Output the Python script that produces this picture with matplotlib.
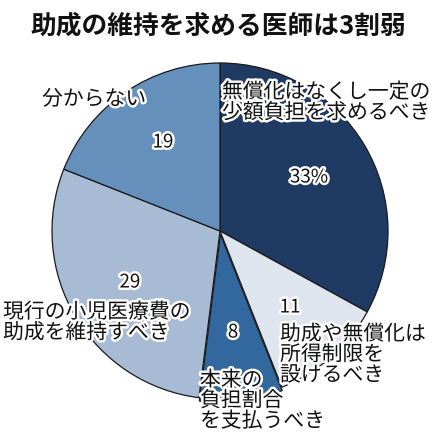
import matplotlib
matplotlib.use("Agg")
import matplotlib.pyplot as plt
import matplotlib.patheffects as pe

plt.rcParams['font.family'] = ['Noto Sans CJK JP', 'DejaVu Sans']

title = "助成の維持を求める医師は3割弱"
categories = ["無償化はなくし一定の\n少額負担を求めるべき",
              "助成や無償化は\n所得制限を\n設けるべき",
              "本来の\n負担割合\nを支払うべき",
              "現行の小児医療費の\n助成を維持すべき",
              "分からない"]
values = [33, 11, 8, 29, 19]
value_labels = ["33%", "11", "8", "29", "19"]
colors = ["#1f3b64", "#dfe5ee", "#33689e", "#a7bcd4", "#6690bc"]
explode = [0, 0, 0.02, 0, 0]

W, H = 447, 439
fig = plt.figure(figsize=(W / 100, H / 100), dpi=100)
fig.patch.set_facecolor("white")

cx, cy, r = 220, 232, 168
ax = fig.add_axes([(cx - r) / W, (H - cy - r) / H, 2 * r / W, 2 * r / H])
ax.pie(values, colors=colors, startangle=90, counterclock=False,
       explode=explode,
       wedgeprops=dict(edgecolor="#1a1a1a", linewidth=0.9))
ax.set_xlim(-1, 1)
ax.set_ylim(-1, 1)
ax.axis("off")

def px(x, y):
    return x / W, 1 - y / H

stroke = [pe.withStroke(linewidth=3.5, foreground="white")]

fig.text(*px(218, 26), title, ha="center", va="center", fontsize=18.5,
         fontweight="bold", color="#111111")

# category labels: left x and centre y of first line; each line drawn separately
cat_pos = [(222, 93), (280, 335), (200, 381), (3, 313), (42, 100)]
line_step = 20.5
for text, (x, y) in zip(categories, cat_pos):
    for i, line in enumerate(text.split("\n")):
        fig.text(*px(x, y + i * line_step), line, ha="left", va="center",
                 fontsize=15, color="#111111", path_effects=stroke)

num_pos = [(309, 178), (290, 308), (233, 333), (130, 283), (163, 143)]
for text, (x, y) in zip(value_labels, num_pos):
    fig.text(*px(x, y), text, ha="center", va="center", fontsize=13.5,
             color="#111111", path_effects=stroke)

fig.savefig("out.png", dpi=100, facecolor="white")
